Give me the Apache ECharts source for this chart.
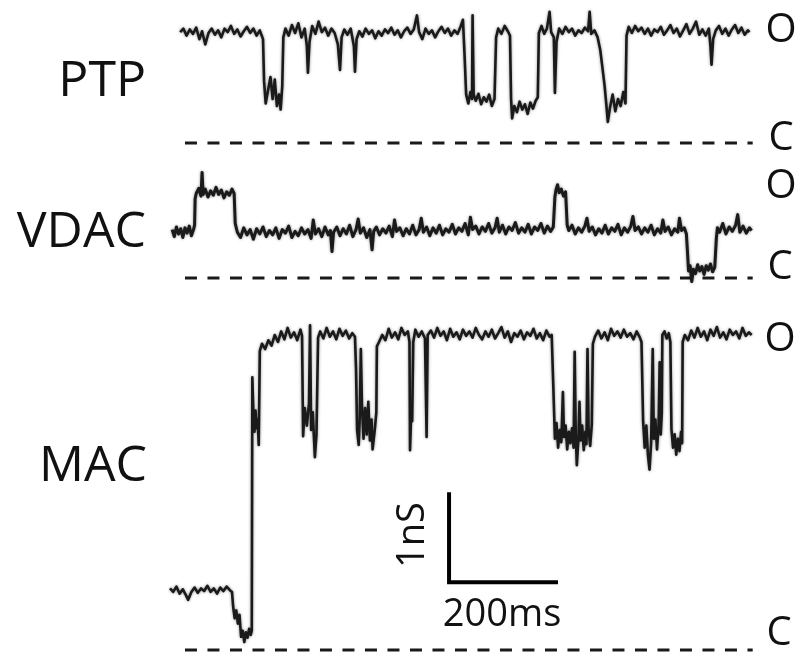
<!DOCTYPE html>
<html>
<head>
<meta charset="utf-8">
<script src="https://cdn.jsdelivr.net/npm/echarts@6/dist/echarts.min.js"></script>
<style>
  html, body { margin: 0; padding: 0; background: #fff; }
  #main { width: 795px; height: 654px; }
</style>
</head>
<body>
<div id="main"></div>
<script>
// time in ms, conductance in nS (0 = closed level C)
var channelNames = ['PTP', 'VDAC', 'MAC'];
var stateLabels = ['O', 'C'];
var scaleBarText = ['1nS', '200ms'];
var scaleBar = [[522, 1.77], [522, 0.77], [722, 0.77]];
var closedLine = [[28, 0], [1090, 0]];

var ptpTrace = [
    [19,1.26],[25,1.30],[31,1.22],[37,1.29],[43,1.24],[49,1.31],[55,1.18],[60,1.27],[66,1.12],[72,1.25],
    [78,1.30],[84,1.23],[90,1.28],[96,1.20],[102,1.30],[108,1.26],[114,1.33],[120,1.24],[126,1.29],[132,1.21],
    [138,1.27],[144,1.32],[150,1.25],[156,1.30],[162,1.22],[168,1.28],[174,1.18],
    [176,0.70],[179,0.45],[184,0.62],[188,0.75],[192,0.50],[196,0.72],[200,0.42],[204,0.55],[207,0.38],[210,0.65],
    [212,1.20],[216,1.30],[222,1.22],[228,1.34],[234,1.25],[240,1.36],[246,1.20],[252,1.30],[256,1.10],[258,0.80],
    [261,1.15],[266,1.33],[272,1.24],[278,1.38],[284,1.26],[290,1.31],[296,1.22],[302,1.30],[308,1.25],[314,1.12],
    [318,0.83],[321,1.20],[326,1.29],[332,1.23],[338,1.30],[344,1.10],[346,0.81],[349,1.18],[354,1.27],[360,1.21],
    [366,1.30],[372,1.24],[378,1.28],[384,1.19],[390,1.27],[396,1.22],[402,1.29],[408,1.25],[414,1.31],[420,1.23],
    [426,1.28],[432,1.20],[438,1.27],[444,1.31],[450,1.24],[456,1.29],[462,1.45],[466,1.26],[472,1.18],[478,1.30],
    [484,1.24],[490,1.28],[496,1.20],[502,1.27],[508,1.32],[514,1.25],[520,1.30],[526,1.22],[532,1.28],[538,1.24],
    [544,1.33],[548,1.40],[551,1.00],[554,0.55],[558,0.45],[562,0.58],[565,0.50],[566,1.45],[568,0.55],[572,0.48],
    [577,0.56],[582,0.44],[587,0.52],[592,0.47],[597,0.55],[602,0.42],[607,0.50],[610,1.20],[614,1.30],[620,1.24],
    [626,1.33],[632,1.27],[636,1.22],[638,0.50],[640,0.28],[644,0.42],[649,0.35],[654,0.47],[659,0.38],[664,0.44],
    [669,0.33],[674,0.46],[679,0.39],[684,0.48],[688,0.52],[690,1.25],[695,1.33],[700,1.24],[705,1.30],[710,1.49],
    [713,1.26],[718,1.20],[720,0.57],[723,1.15],[728,1.30],[734,1.24],[740,1.32],[746,1.26],[752,1.30],[758,1.22],
    [764,1.28],[770,1.25],[776,1.31],[782,1.27],[785,1.49],[788,1.24],[794,1.28],[800,1.20],[805,1.05],[809,0.85],
    [813,0.65],[816,0.45],[819,0.24],[823,0.40],[828,0.55],[833,0.36],[838,0.50],[843,0.42],[848,0.58],[852,0.45],
    [854,1.22],[858,1.32],[864,1.25],[870,1.33],[876,1.27],[882,1.31],[888,1.24],[894,1.30],[900,1.22],[906,1.29],
    [912,1.26],[918,1.32],[924,1.23],[930,1.28],[936,1.34],[942,1.25],[948,1.30],[954,1.21],[960,1.28],[966,1.35],
    [972,1.24],[978,1.30],[984,1.38],[990,1.23],[996,1.29],[1002,1.22],[1008,1.30],[1011,1.10],[1013,0.89],[1016,1.18],
    [1021,1.28],[1027,1.33],[1033,1.24],[1039,1.30],[1045,1.22],[1051,1.29],[1057,1.34],[1063,1.25],[1069,1.31],[1075,1.23],
    [1081,1.28],[1084,1.26]
];

var vdacTrace = [
    [4,0.55],[8,0.47],[12,0.58],[16,0.50],[20,0.56],[24,0.46],[28,0.57],[32,0.51],[36,0.59],[40,0.48],[44,0.55],[46,0.60],
    [47,0.90],[49,0.96],[54,1.02],[58,0.93],[60,1.20],[62,0.95],[66,1.01],[71,0.92],[76,0.99],[81,0.94],[86,1.03],
    [91,0.95],[96,1.00],[101,0.91],[106,0.98],[111,0.94],[116,1.01],[120,0.96],
    [122,0.62],[126,0.52],[132,0.46],[138,0.57],[144,0.49],[150,0.55],[156,0.44],[162,0.56],[168,0.50],[174,0.58],
    [180,0.47],[186,0.54],[192,0.49],[198,0.57],[204,0.45],[210,0.55],[216,0.51],[222,0.59],[228,0.46],[234,0.53],
    [240,0.48],[246,0.57],[252,0.50],[258,0.55],[264,0.45],[268,0.66],[272,0.50],[278,0.56],[284,0.47],[290,0.58],
    [296,0.49],[300,0.54],[303,0.30],[306,0.52],[312,0.58],[318,0.48],[324,0.56],[330,0.50],[336,0.60],[342,0.47],
    [348,0.55],[352,0.67],[356,0.51],[362,0.57],[368,0.46],[374,0.55],[378,0.32],[381,0.53],[386,0.58],[392,0.49],
    [398,0.56],[404,0.51],[410,0.59],[416,0.47],[420,0.66],[424,0.53],[430,0.57],[436,0.48],[442,0.56],[448,0.50],
    [454,0.60],[460,0.49],[466,0.55],[470,0.68],[474,0.52],[480,0.58],[486,0.48],[492,0.57],[498,0.51],[504,0.60],
    [510,0.49],[516,0.56],[522,0.52],[528,0.61],[534,0.50],[540,0.57],[546,0.53],[552,0.62],[558,0.49],[562,0.69],
    [566,0.55],[572,0.59],[578,0.50],[584,0.58],[590,0.53],[596,0.62],[602,0.51],[608,0.57],[612,0.68],[616,0.52],
    [622,0.60],[628,0.50],[634,0.58],[640,0.54],[646,0.63],[652,0.51],[658,0.57],[664,0.52],[670,0.61],[676,0.50],
    [682,0.58],[688,0.54],[694,0.62],[700,0.51],[706,0.59],[712,0.53],[717,0.58],
    [720,0.92],[722,1.00],[725,1.06],[728,0.97],[732,1.01],[736,0.93],[740,0.98],
    [743,0.60],[746,0.54],[752,0.60],[758,0.50],[764,0.57],[770,0.52],[776,0.59],[780,0.68],[784,0.53],[790,0.58],
    [796,0.49],[802,0.56],[808,0.51],[814,0.60],[820,0.50],[826,0.57],[832,0.53],[838,0.61],[844,0.49],[850,0.57],
    [856,0.52],[862,0.59],[866,0.70],[870,0.54],[876,0.58],[882,0.50],[888,0.57],[894,0.52],[900,0.60],[906,0.49],
    [912,0.56],[918,0.51],[922,0.66],[926,0.53],[932,0.58],[938,0.49],[944,0.56],[950,0.52],[953,0.68],[957,0.54],
    [962,0.57],[966,0.50],
    [968,0.30],[970,0.08],[973,0.14],[976,-0.04],[979,0.10],[983,0.05],[987,0.15],[991,0.08],[995,0.13],[999,0.04],
    [1003,0.14],[1007,0.09],[1011,0.16],[1015,0.07],[1019,0.12],
    [1022,0.45],[1024,0.57],[1028,0.52],[1034,0.62],[1040,0.50],[1046,0.58],[1052,0.53],[1058,0.60],[1062,0.72],
    [1066,0.52],[1072,0.59],[1078,0.51],[1084,0.57],[1088,0.54]
];

var macTrace = [
    [0,0.70],[6,0.66],[12,0.72],[18,0.64],[24,0.69],[30,0.62],[34,0.57],[40,0.66],[46,0.71],[52,0.65],[58,0.70],
    [64,0.67],[70,0.73],[76,0.66],[82,0.70],[88,0.64],[94,0.71],[100,0.67],[106,0.72],[112,0.68],[116,0.66],
    [118,0.50],[121,0.36],[124,0.45],[127,0.30],[130,0.40],[133,0.15],[136,0.22],[139,0.09],[142,0.20],[145,0.14],
    [148,0.24],[151,0.17],[153,0.22],
    [154,3.10],[156,2.70],[158,2.48],[160,2.72],[162,2.52],[164,2.62],[166,2.33],
    [168,3.40],[172,3.48],[178,3.42],[184,3.52],[190,3.46],[196,3.58],[202,3.50],[208,3.62],[214,3.53],[220,3.66],
    [226,3.55],[232,3.61],[238,3.52],[244,3.64],[247,3.57],
    [249,2.43],[252,2.75],[256,2.55],[260,2.80],[262,3.69],[264,2.50],[267,2.70],[271,2.19],[274,2.45],
    [277,3.55],[281,3.62],[287,3.54],[293,3.66],[299,3.56],[305,3.62],[311,3.53],[317,3.65],[323,3.57],[329,3.63],
    [335,3.54],[341,3.60],[346,3.56],
    [348,3.19],[350,2.50],[353,2.33],[355,2.65],[357,3.42],[359,2.80],[362,2.40],[365,2.75],[368,2.45],[371,2.82],
    [374,2.38],[377,2.62],[379,2.28],[383,2.50],[386,2.70],
    [387,3.45],[391,3.50],[397,3.58],[403,3.52],[409,3.65],[415,3.55],[421,3.61],[427,3.53],[433,3.66],[439,3.58],
    [445,3.62],[448,3.50],[449,2.27],[451,2.65],[453,2.60],[455,3.50],[459,3.64],[465,3.56],[471,3.62],[477,3.54],
    [480,2.42],[482,3.58],[488,3.63],[494,3.55],[500,3.66],[506,3.57],[512,3.62],[518,3.52],[524,3.65],[530,3.56],
    [536,3.61],[542,3.53],[548,3.64],[554,3.57],[560,3.62],[566,3.55],[572,3.66],[578,3.58],[584,3.53],[590,3.62],
    [596,3.56],[602,3.64],[608,3.54],[614,3.60],[620,3.67],[626,3.55],[632,3.62],[638,3.50],[644,3.60],[650,3.56],
    [656,3.63],[662,3.53],[668,3.61],[674,3.57],[680,3.65],[686,3.54],[692,3.60],[698,3.52],[704,3.63],[710,3.56],
    [714,3.58],
    [717,3.00],[720,2.40],[723,2.58],[726,2.30],[729,2.50],[732,2.36],[735,2.93],[737,2.42],[740,2.55],[743,2.28],
    [746,2.48],[749,2.35],[752,2.52],[755,2.30],[757,3.39],[759,2.45],[761,2.10],[764,2.40],[766,2.82],[768,2.38],
    [771,2.55],[774,2.27],[777,2.48],[779,2.34],[781,3.42],[783,2.50],[786,2.32],[789,2.56],
    [791,3.48],[795,3.56],[801,3.63],[807,3.54],[813,3.61],[819,3.52],[825,3.65],[831,3.57],[837,3.62],[843,3.55],
    [849,3.64],[855,3.56],[861,3.60],[867,3.53],[873,3.62],[879,3.55],[882,3.50],
    [885,2.60],[888,2.30],[891,2.55],[894,2.22],[897,2.05],[900,2.35],[903,3.42],[905,2.40],[908,2.62],[911,2.28],
    [914,2.55],[916,3.27],[918,2.45],[920,2.70],
    [921,3.58],[925,3.62],[929,3.54],[933,3.60],[936,3.50],
    [938,2.51],[941,2.30],[944,2.45],[947,2.22],[950,2.40],[953,2.26],[956,2.48],[958,2.35],
    [959,3.50],[963,3.58],[969,3.52],[975,3.63],[981,3.55],[987,3.66],[993,3.56],[999,3.62],[1005,3.52],[1011,3.64],
    [1017,3.57],[1023,3.67],[1029,3.55],[1035,3.61],[1041,3.53],[1047,3.64],[1053,3.58],[1059,3.62],[1065,3.54],
    [1071,3.66],[1077,3.57],[1083,3.61],[1088,3.58]
];

(function () {
    var myChart = echarts.init(document.getElementById('main'));
    var ink = '#1a1a1a';
    var font = 'Open Sans';

    // 200 ms = 107 px, 1 nS = 88 px in every panel
    var grids = [
        { left: 170, width: 582.7, top: 2.2, height: 140.8 },    // PTP, 0 at y=143
        { left: 170, width: 582.7, top: 168, height: 118.8 },    // VDAC, 0 at y=278
        { left: 170, width: 582.7, top: 315.6, height: 334.4 }   // MAC, 0 at y=650
    ];
    var yRanges = [[0, 1.6], [-0.1, 1.25], [0, 3.8]];

    var xAxes = [], yAxes = [];
    for (var i = 0; i < 3; i++) {
        xAxes.push({ gridIndex: i, type: 'value', min: 0, max: 1090, show: false });
        yAxes.push({ gridIndex: i, type: 'value', min: yRanges[i][0], max: yRanges[i][1], show: false });
    }

    function trace(data, idx, width) {
        return {
            type: 'line', data: data, xAxisIndex: idx, yAxisIndex: idx,
            symbol: 'none', clip: false, silent: true,
            lineStyle: {
                color: ink, width: width, join: 'round',
                shadowColor: 'rgba(0,0,0,0.45)', shadowBlur: 3
            }
        };
    }
    function dashed(idx) {
        return {
            type: 'line', data: closedLine, xAxisIndex: idx, yAxisIndex: idx,
            symbol: 'none', clip: false, silent: true,
            lineStyle: { color: ink, width: 3, type: [12, 10.5] }
        };
    }

    function label(text, x, y, size, align, rot) {
        return {
            type: 'text', x: x, y: y, rotation: rot || 0,
            style: {
                text: text, fill: '#111', fontSize: size, fontFamily: font,
                align: align, verticalAlign: 'middle',
                textAlign: align, textVerticalAlign: 'middle'
            }
        };
    }

    myChart.setOption({
        animation: false,
        backgroundColor: '#fff',
        grid: grids,
        xAxis: xAxes,
        yAxis: yAxes,
        series: [
            dashed(0), dashed(1), dashed(2),
            trace(ptpTrace, 0, 2.6),
            trace(vdacTrace, 1, 3),
            trace(macTrace, 2, 2.6),
            {
                type: 'line', data: scaleBar, xAxisIndex: 2, yAxisIndex: 2,
                symbol: 'none', clip: false, silent: true,
                lineStyle: { color: '#000', width: 4, cap: 'square', join: 'miter' }
            }
        ],
        graphic: [
            label(channelNames[0], 146, 82, 50, 'right'),
            label(channelNames[1], 146, 233, 50, 'right'),
            label(channelNames[2], 147, 467, 50, 'right'),
            label(stateLabels[0], 781, 31, 40, 'center'),
            label(stateLabels[1], 781, 139, 40, 'center'),
            label(stateLabels[0], 781, 187, 40, 'center'),
            label(stateLabels[1], 780, 268, 40, 'center'),
            label(stateLabels[0], 780, 340, 40, 'center'),
            label(stateLabels[1], 779, 634, 40, 'center'),
            label(scaleBarText[0], 413, 535, 38, 'center', Math.PI / 2),
            label(scaleBarText[1], 502, 615, 38, 'center')
        ]
    });
})();
</script>
</body>
</html>
